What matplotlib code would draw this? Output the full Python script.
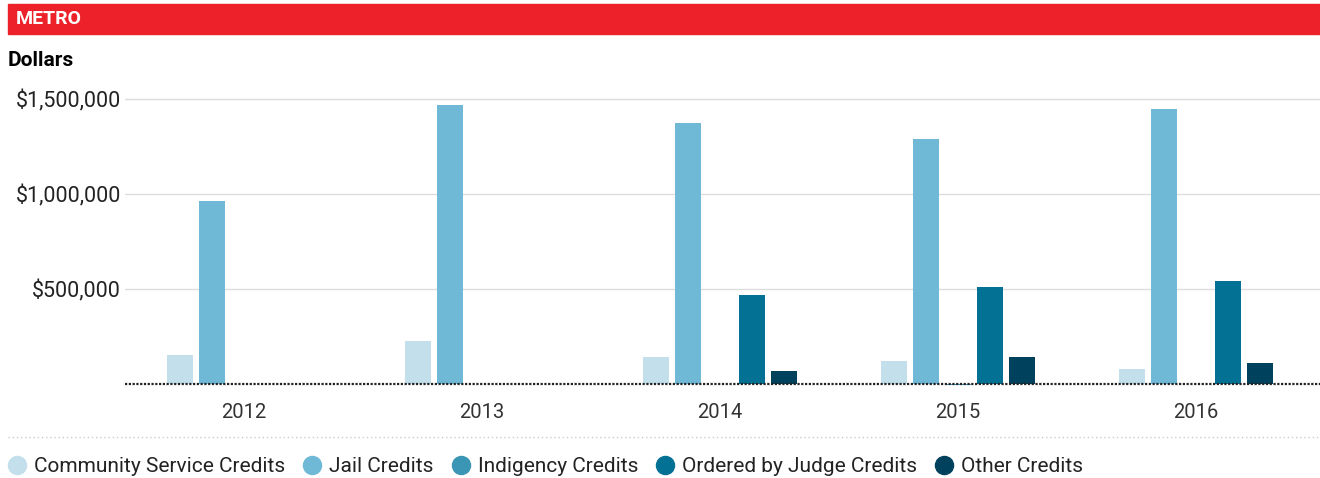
import matplotlib
matplotlib.use("Agg")
import matplotlib.pyplot as plt
from matplotlib.patches import Rectangle
from matplotlib.lines import Line2D
import numpy as np

years = ["2012", "2013", "2014", "2015", "2016"]
series_names = ["Community Service Credits", "Jail Credits", "Indigency Credits",
                "Ordered by Judge Credits", "Other Credits"]
community_service = [153000, 226000, 142000, 121000, 79000]
jail = [963000, 1468000, 1374000, 1289000, 1447000]
indigency = [0, 0, 0, -5000, 0]
ordered_by_judge = [0, 0, 468000, 511000, 542000]
other = [0, 0, 68000, 142000, 110000]
colors = ["#C3DFEB", "#6FB9D7", "#3A96B4", "#027194", "#00425E"]
y_ticks = [500000, 1000000, 1500000]
y_tick_labels = ["$500,000", "$1,000,000", "$1,500,000"]

plt.rcParams['font.family'] = ['Roboto', 'DejaVu Sans']

W, H = 1320, 478
fig = plt.figure(figsize=(W / 100, H / 100), dpi=100)

def fx(px):
    return px / W

def fy(py):
    return 1 - py / H

# axes geometry
ax_left, ax_right = 125, 1320
ymin, ymax = -10000, 1510500
px_per = 285 / 1.5e6
ax_top = 99 - (ymax - 1.5e6) * px_per
ax_bot = 384 - ymin * px_per
ax = fig.add_axes([fx(ax_left), fy(ax_bot), fx(ax_right - ax_left), (ax_bot - ax_top) / H])

x = np.arange(len(years))
bw = 26 / 238
step = 32 / 238
all_series = [community_service, jail, indigency, ordered_by_judge, other]
for i, (vals, c) in enumerate(zip(all_series, colors)):
    ax.bar(x + (i - 2) * step, vals, width=bw, color=c, zorder=2, linewidth=0)

ax.set_xlim(-0.5, -0.5 + (ax_right - ax_left) / 238)
ax.set_ylim(ymin, ymax)
ax.set_yticks(y_ticks)
ax.set_yticklabels(y_tick_labels)
ax.set_xticks(x)
ax.set_xticklabels(years)
ax.tick_params(axis='both', length=0, colors='#333333')
ax.tick_params(axis='y', pad=3, labelsize=15.5, labelcolor='#222222')
ax.tick_params(axis='x', pad=12, labelsize=14.5)
for s in ax.spines.values():
    s.set_visible(False)
ax.grid(axis='y', color='#dddddd', linewidth=1, zorder=0)
ax.set_axisbelow(True)
ax.axhline(0, color='#222222', linewidth=1.6, linestyle=(0, (1, 0.7)), zorder=3)

# banner
fig.patches.append(Rectangle((fx(8), fy(34)), fx(1312), 30 / H, transform=fig.transFigure,
                             color='#EC2129', zorder=0))
fig.text(fx(16), fy(19.5), "METRO", color='white', fontsize=14, fontweight='bold',
         va='center', ha='left')
fig.text(fx(8), fy(60), "Dollars", color='black', fontsize=15, fontweight='bold',
         va='center', ha='left')

# legend separator
fig.lines.append(Line2D([fx(8), fx(1320)], [fy(437), fy(437)], transform=fig.transFigure,
                        color='#cccccc', linewidth=1, linestyle=(0, (1, 2))))

# legend
fig.canvas.draw()
renderer = fig.canvas.get_renderer()
cur = 17
ly = fy(465)
for name, c in zip(series_names, colors):
    fig.lines.append(Line2D([fx(cur)], [fy(465)], transform=fig.transFigure, marker='o',
                            markersize=13, color=c, linestyle='none'))
    t = fig.text(fx(cur + 17), fy(466), name, fontsize=15, color='#222222', va='center', ha='left')
    bb = t.get_window_extent(renderer)
    cur = bb.x1 + 27

fig.savefig("out.png", dpi=100)
